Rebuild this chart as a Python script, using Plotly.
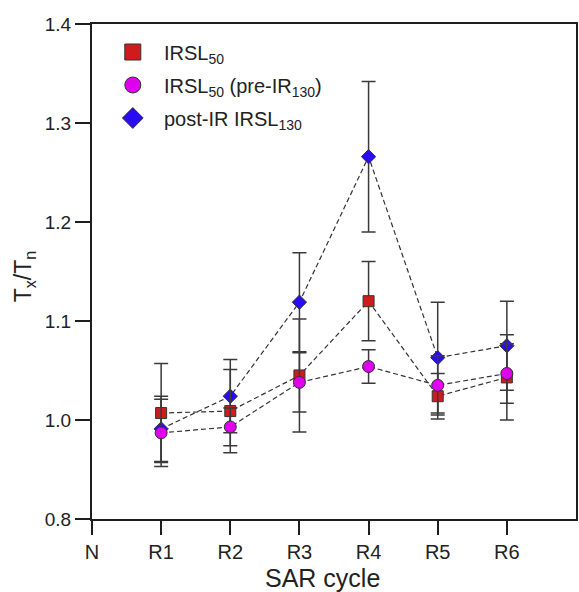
import plotly.graph_objects as go

cycles = ["N", "R1", "R2", "R3", "R4", "R5", "R6"]
measured = ["R1", "R2", "R3", "R4", "R5", "R6"]

irsl50 = [1.007, 1.009, 1.045, 1.120, 1.024, 1.043]
irsl50_err = [0.050, 0.042, 0.057, 0.040, 0.023, 0.043]

irsl50_pre = [0.987, 0.993, 1.038, 1.054, 1.035, 1.047]
irsl50_pre_err = [0.034, 0.019, 0.030, 0.017, 0.030, 0.030]

pirirsl130 = [0.991, 1.024, 1.119, 1.266, 1.063, 1.075]
pirirsl130_err = [0.033, 0.037, 0.050, 0.076, 0.056, 0.045]

ytick_vals = [0.9, 1.0, 1.1, 1.2, 1.3, 1.4]
ytick_text = ["0.8", "1.0", "1.1", "1.2", "1.3", "1.4"]

xpos = [cycles.index(c) for c in measured]

FONT = "Liberation Sans, Arial, sans-serif"
DARK = "#1e1e1e"
ERR = "#3a3a3a"
TXT = "#222222"

series = [
    ("post-IR IRSL<sub>130</sub>", pirirsl130, pirirsl130_err, "diamond", "#2a0cf2", 11, "legend3"),
    ("IRSL<sub>50</sub>", irsl50, irsl50_err, "square", "#cf1b1b", 11, "legend"),
    ("IRSL<sub>50</sub> (pre-IR<sub>130</sub>)", irsl50_pre, irsl50_pre_err, "circle", "#de00ee", 12, "legend2"),
]

fig = go.Figure()

for name, y, err, sym, col, size, leg in series:
    fig.add_trace(go.Scatter(
        x=xpos, y=y, mode="lines+markers",
        line=dict(color="#333333", width=1.2, dash="5px,3px"),
        marker=dict(symbol=sym, size=size, color=col, line=dict(color="#333333", width=1)),
        error_y=dict(type="data", array=err, visible=True, color=ERR, thickness=1.5, width=7),
        showlegend=False, hoverinfo="skip",
    ))

for name, y, err, sym, col, size, leg in series:
    fig.add_trace(go.Scatter(
        x=[None], y=[None], mode="markers", name="\u00a0\u00a0" + name,
        marker=dict(symbol=sym, size=16, color=col, line=dict(color="#333333", width=1)),
        showlegend=True, legend=leg,
    ))

def px_to_paper_y(py):
    return (519 - py) / 495.0

leg_common = dict(bgcolor="rgba(0,0,0,0)", borderwidth=0,
                  font=dict(family=FONT, size=20, color=TXT),
                  xanchor="left", yanchor="middle", x=0.043, itemsizing="trace")

fig.update_layout(
    width=579, height=592,
    margin=dict(l=92, r=1, t=24, b=73),
    paper_bgcolor="white", plot_bgcolor="white",
    font=dict(family=FONT, color=TXT),
    legend=dict(y=px_to_paper_y(52), **leg_common),
    legend2=dict(y=px_to_paper_y(85), **leg_common),
    legend3=dict(y=px_to_paper_y(118), **leg_common),
    xaxis=dict(
        range=[0, 7], tickmode="array", tickvals=list(range(len(cycles))), ticktext=cycles,
        showgrid=False, zeroline=False, showline=True, linecolor=DARK, linewidth=2,
        mirror=True, ticks="outside", ticklen=14, tickwidth=2, tickcolor=DARK,
        tickfont=dict(family=FONT, size=20, color=TXT),
    ),
    yaxis=dict(
        range=[0.9, 1.4], tickmode="array", tickvals=ytick_vals, ticktext=ytick_text,
        showgrid=False, zeroline=False, showline=True, linecolor=DARK, linewidth=2,
        mirror=True, ticks="outside", ticklen=15, tickwidth=2, tickcolor=DARK,
        tickfont=dict(family=FONT, size=19, color=TXT),
    ),
    annotations=[
        dict(text="SAR cycle", xref="paper", yref="paper", x=(323.5 - 92) / 486, y=px_to_paper_y(578),
             xanchor="center", yanchor="middle", showarrow=False,
             font=dict(family=FONT, size=25, color=TXT)),
        dict(text="T<sub>x</sub>/T<sub>n</sub>", xref="paper", yref="paper", x=(24 - 92) / 486,
             y=px_to_paper_y(276), xanchor="center", yanchor="middle", showarrow=False, textangle=-90,
             font=dict(family=FONT, size=23, color=TXT)),
    ],
)

fig.write_html("out.html", config={"displayModeBar": False},
               post_script="document.body.style.margin='0';document.body.style.overflow='hidden';")
